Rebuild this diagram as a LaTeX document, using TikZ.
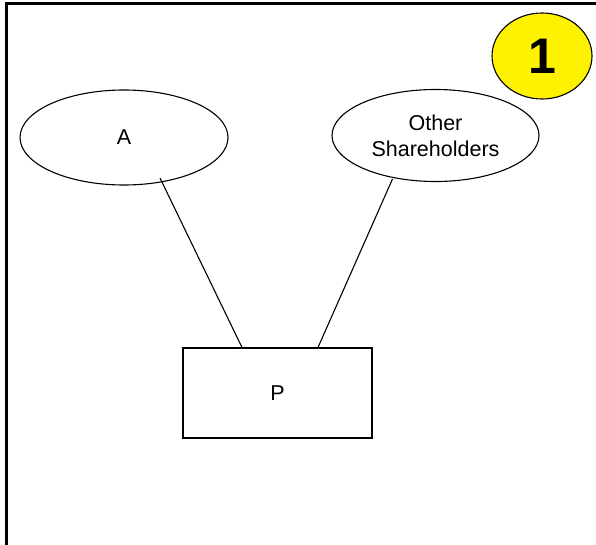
\documentclass[tikz,border=0pt]{standalone}
\usepackage{fontspec}
\setmainfont{Liberation Sans}
\usetikzlibrary{shapes.geometric}
\begin{document}
\begin{tikzpicture}[x=1pt,y=-1pt,
  ent/.style={draw,line width=1.1pt,ellipse,inner sep=0pt,font=\fontsize{21.5}{26}\selectfont,align=center},
  box/.style={draw,line width=1.1pt,rectangle,inner sep=0pt,font=\fontsize{21.5}{26}\selectfont},
  conn/.style={line width=1.1pt}]
\useasboundingbox (0,0) rectangle (596,545);
\draw[line width=2.2pt] (6.5,548) -- (6.5,3.5) -- (600,3.5);
\node[ent,minimum width=208pt,minimum height=95pt] (A) at (124,137.5) {A};
\node[ent,minimum width=207pt,minimum height=92pt] (O) at (435.5,135.5) {Other\\Shareholders};
\node[draw,line width=1.1pt,ellipse,fill=yellow,minimum width=100pt,minimum height=86pt,inner sep=0pt,font=\fontsize{50}{50}\selectfont\bfseries] (one) at (542,56) {\raisebox{-2pt}{1}};
\node[box,minimum width=189pt,minimum height=90pt] (P) at (277.5,393) {P};
\coordinate (a1) at (160,178);
\coordinate (o1) at (392.5,179);
\draw[conn] (a1) -- (P.north west -| 242,0);
\draw[conn] (o1) -- (P.north west -| 318,0);
\end{tikzpicture}
\end{document}
